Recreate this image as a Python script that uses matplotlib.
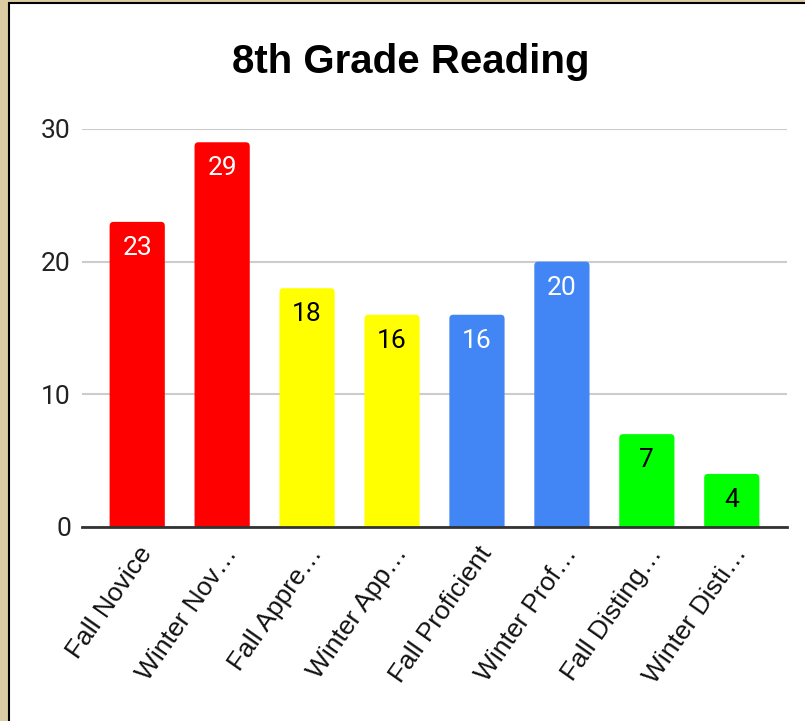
import matplotlib.pyplot as plt
from matplotlib.patches import Rectangle, FancyBboxPatch
from matplotlib.transforms import ScaledTranslation

# chart data
categories = ['Fall Novice', 'Winter Nov…', 'Fall Appre…', 'Winter App…',
              'Fall Proficient', 'Winter Prof…', 'Fall Disting…', 'Winter Disti…']
counts = [23, 29, 18, 16, 16, 20, 7, 4]
bar_colors = ['#ff0000', '#ff0000', '#ffff00', '#ffff00',
              '#4285f4', '#4285f4', '#00ff00', '#00ff00']
label_colors = ['white', 'white', 'black', 'black',
                'white', 'white', 'black', 'black']
yticks = [0, 10, 20, 30]

plt.rcParams['font.family'] = ['Liberation Sans', 'DejaVu Sans']

fig = plt.figure(figsize=(8.05, 7.21), dpi=100, facecolor='#dccca3')
# white card with a dark frame on the top/left edges
fig.patches.append(Rectangle((8.5 / 805, -0.05), 1.1, 1.05 - 3 / 721,
                             transform=fig.transFigure, facecolor='white',
                             edgecolor='black', linewidth=1.5, zorder=-1))

ax = fig.add_axes([82 / 805, 1 - 527 / 721, (787 - 82) / 805, (527 - 129) / 721])
ax.set_zorder(1)
ax.set_facecolor('none')
ax.set_xlim(-0.65, len(categories) - 0.35)
ax.set_ylim(0, 30)

bw = 0.65
# aspect between y-units and x-units per pixel, so the corners stay circular
bbox = ax.get_window_extent()
aspect = (30 / bbox.height) / ((len(categories) - 0.3) / bbox.width)
# bars with rounded tops; they start below 0 so the lower corners get clipped
for i, (v, c, lc) in enumerate(zip(counts, bar_colors, label_colors)):
    ax.add_patch(FancyBboxPatch((i - bw / 2, -1), bw, v + 1,
                                boxstyle='round,pad=0,rounding_size=0.045',
                                mutation_aspect=aspect, facecolor=c,
                                edgecolor='none', linewidth=0, zorder=2))
    ax.annotate(str(v), (i, v), xytext=(0, -26), textcoords='offset pixels',
                ha='center', va='center', fontsize=19, color=lc, zorder=3,
                family=['Roboto', 'DejaVu Sans'])

ax.set_yticks(yticks)
ax.yaxis.grid(True, color='#cccccc', linewidth=1.5, zorder=0)
ax.axhline(0, color='#333333', linewidth=2, zorder=4, clip_on=False)

for s in ax.spines.values():
    s.set_visible(False)
ax.tick_params(axis='y', length=0, pad=8, labelsize=19, labelcolor='#222222')
for t in ax.get_yticklabels():
    t.set_family(['Roboto', 'DejaVu Sans'])
ax.tick_params(axis='x', length=0, pad=16)
ax.set_xticks(range(len(categories)))
ax.set_xticklabels(categories, rotation=55, ha='right', va='center',
                   rotation_mode='anchor', fontsize=19, color='#111111')
shift = ScaledTranslation(10 / 100, 0, fig.dpi_scale_trans)
for t in ax.get_xticklabels():
    t.set_transform(t.get_transform() + shift)

fig.text(411 / 805, 1 - 62 / 721, '8th Grade Reading', ha='center', va='center',
         fontsize=29, fontweight='bold')

fig.savefig('out.png', dpi=100, facecolor=fig.get_facecolor())
